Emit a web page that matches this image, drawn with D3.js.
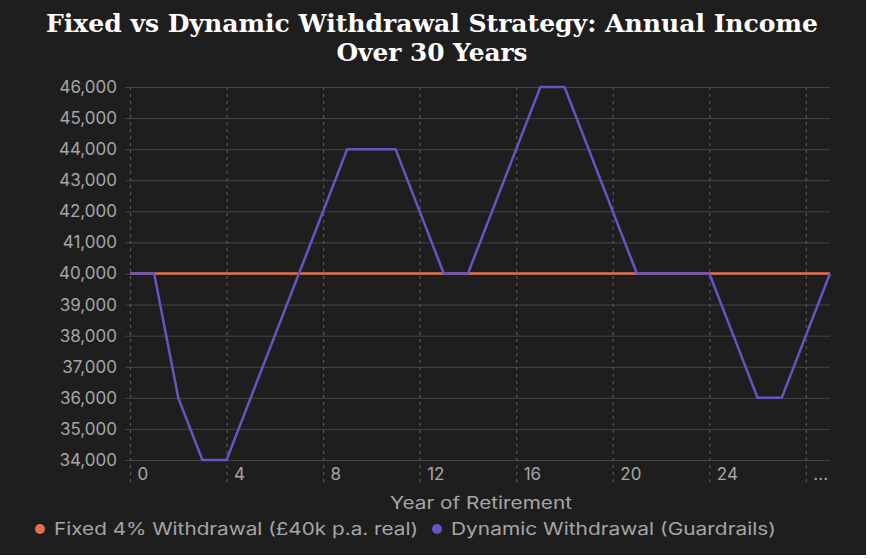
<!DOCTYPE html>
<html><head><meta charset="utf-8">
<script src="https://cdn.jsdelivr.net/npm/d3@7"></script>
<style>
html,body{margin:0;padding:0;background:#ffffff;}
#chart{width:866px;height:555px;background:#1f1e1e;overflow:hidden;}
svg{display:block;}
</style></head><body><div id="chart"></div>
<script>
const chartTitle = ["Fixed vs Dynamic Withdrawal Strategy: Annual Income", "Over 30 Years"];
const yearLabels = ["0","1","2","3","4","5","6","7","8","9","10","11","12","13","14","15","16","17","18","19","20","21","22","23","24","25","26","27","...","29"];
const fixedIncome = [40000,40000,40000,40000,40000,40000,40000,40000,40000,40000,40000,40000,40000,40000,40000,40000,40000,40000,40000,40000,40000,40000,40000,40000,40000,40000,40000,40000,40000,40000];
const dynamicIncome = [40000,40000,36000,34000,34000,36000,38000,40000,42000,44000,44000,44000,42000,40000,40000,42000,44000,46000,46000,44000,42000,40000,40000,40000,40000,38000,36000,36000,38000,40000];
const yTicks = [34000,35000,36000,37000,38000,39000,40000,41000,42000,43000,44000,45000,46000];
const xTickIdx = [0,4,8,12,16,20,24,28];
const seriesNames = ["Fixed 4% Withdrawal (£40k p.a. real)", "Dynamic Withdrawal (Guardrails)"];
const seriesColors = ["#e2714f", "#6655c4"];

const W = 866, H = 555;
const svg = d3.select("#chart").append("svg").attr("width", W).attr("height", H);
const sans = "Inter, 'Noto Sans', sans-serif";

const x = d3.scalePoint().domain(d3.range(yearLabels.length)).range([130, 830]);
const y = d3.scaleLinear().domain([34000, 46000]).range([460, 87]);

// title
const titleLen = [772, 191];
svg.append("g").selectAll("text").data(chartTitle).join("text")
  .attr("x", 432).attr("y", (d, i) => 32 + i * 29)
  .attr("text-anchor", "middle")
  .attr("fill", "#ffffff")
  .attr("textLength", (d, i) => titleLen[i])
  .attr("lengthAdjust", "spacingAndGlyphs")
  .style("font-family", "'DejaVu Serif', serif")
  .style("font-weight", "bold")
  .style("font-size", "24px")
  .text(d => d);

// horizontal grid + y labels
const yAxis = d3.axisLeft(y).tickValues(yTicks).tickFormat(d3.format(",")).tickSize(-(830 - 125)).tickPadding(8);
const yg = svg.append("g").attr("transform", "translate(125,0)").call(yAxis);
yg.select(".domain").remove();
yg.selectAll(".tick line").attr("stroke", "#464545").attr("stroke-width", 1);
yg.selectAll(".tick text").attr("fill", "#a6a6a6").style("font-family", sans).style("font-size", "17px").attr("x", -8);

// vertical dashed grid + x labels
const xAxis = d3.axisBottom(x).tickValues(xTickIdx).tickFormat(i => yearLabels[i]).tickSize(0);
const xg = svg.append("g").attr("transform", "translate(0,460)").call(xAxis);
xg.select(".domain").remove();
xg.selectAll(".tick").append("line")
  .attr("y1", -373).attr("y2", 25)
  .attr("stroke", "#585757").attr("stroke-width", 1.2).attr("stroke-dasharray", "3,4");
xg.selectAll(".tick text")
  .attr("text-anchor", "start").attr("x", 7).attr("y", 20).attr("dy", 0)
  .attr("fill", "#a6a6a6").style("font-family", sans).style("font-size", "17px");

// axis title
svg.append("text").attr("x", 481).attr("y", 509).attr("text-anchor", "middle")
  .attr("fill", "#a6a6a6").style("font-family", sans).style("font-size", "17px")
  .attr("textLength", 182).attr("lengthAdjust", "spacingAndGlyphs")
  .text("Year of Retirement");

// lines
const line = d3.line().x((d, i) => x(i)).y(d => y(d));
[fixedIncome, dynamicIncome].forEach((s, k) => {
  svg.append("path").datum(s).attr("d", line)
    .attr("fill", "none").attr("stroke", seriesColors[k]).attr("stroke-width", 2.5)
    .attr("stroke-linejoin", "round");
});

// legend
const legX = [40, 437];
const legLen = [364, 325];
const lg = svg.append("g").selectAll("g").data(seriesNames).join("g")
  .attr("transform", (d, i) => `translate(${legX[i]},529)`);
lg.append("circle").attr("r", 5).attr("fill", (d, i) => seriesColors[i]);
lg.append("text").attr("x", 14).attr("y", 6)
  .attr("fill", "#a6a6a6").style("font-family", sans).style("font-size", "17px")
  .attr("textLength", (d, i) => legLen[i]).attr("lengthAdjust", "spacingAndGlyphs")
  .text(d => d);
</script></body></html>
